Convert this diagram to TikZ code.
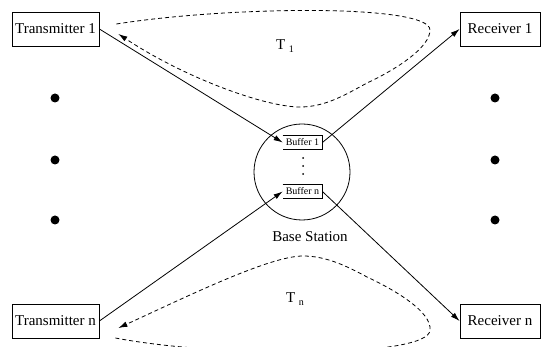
\documentclass[tikz,border=0pt]{standalone}
\usepackage{fontspec}
\setmainfont{Liberation Serif}
\usetikzlibrary{arrows.meta, positioning, calc}
\tikzset{
  every picture/.style={line width=0.8pt},
  unit/.style={draw, minimum height=34pt, inner sep=1pt, font=\fontsize{15}{18}\selectfont},
  buffer/.style={minimum width=39pt, minimum height=14pt, inner sep=1pt, font=\fontsize{10}{12}\selectfont},
  station/.style={circle, draw, minimum size=96pt, inner sep=0pt},
  arrow/.style={-{Latex[length=9pt, width=5.5pt]}},
  feedback/.style={-{Latex[length=9pt, width=5.5pt]}, dash pattern=on 4pt off 3pt},
  note/.style={font=\fontsize{15}{18}\selectfont},
}
\newcommand{\sublab}[1]{\hspace{3.5pt}\raisebox{-3.5pt}{\fontsize{10}{12}\selectfont #1}}

\begin{document}
\begin{tikzpicture}[x=1pt, y=-1pt]
  \useasboundingbox (0,0) rectangle (541,347);
  % end points
  \node[unit, minimum width=87pt] (t1) at (55.5,29) {Transmitter 1};
  \node[unit, minimum width=87pt] (tn) at (55.5,321) {Transmitter n};
  \node[unit, minimum width=80pt] (r1) at (500,29) {Receiver 1};
  \node[unit, minimum width=80pt] (rn) at (500,321) {Receiver n};
  \foreach \y in {98,160,220}{
    \fill (55,\y) circle (4.5pt);
    \fill (495,\y) circle (4.5pt);
  }
  % base station
  \node[station] (bs) at (302,172) {};
  \node[note] (bslab) at (310,237) {Base Station};
  \node[buffer] (b1) at (302.5,142.5) {Buffer 1};
  \node[buffer] (bn) at (302.5,191.5) {Buffer n};
  \foreach \b in {b1,bn}
    \draw (\b.north west) -- (\b.north east) -- (\b.south east) -- (\b.south west);
  \foreach \y in {158,166,174} \fill (303,\y) circle (1pt);
  % traffic
  \draw[arrow] (t1.east) -- (b1.west);
  \draw[arrow] (b1.east) -- (r1.west);
  \draw[arrow] (tn.east) -- (bn.west);
  \draw[arrow] (bn.east) -- (rn.west);
  % round trips
  \coordinate (l1s) at ($(t1.east)+(17,-5)$);
  \coordinate (l1e) at ($(t1.east)+(19,5)$);
  \coordinate (lns) at ($(tn.east)+(16,17)$);
  \coordinate (lne) at ($(tn.east)+(19,7)$);
  \draw[feedback] (l1s) .. controls (230,6) and (430,4) .. (430,30)
    .. controls (430,48) and (395,70) .. (367,83)
    .. controls (345,95) and (325,107) .. (300,107)
    .. controls (265,107) and (185,78) .. (l1e);
  \draw[feedback] (lns) .. controls (220,358) and (430,358) .. (430,330)
    .. controls (432,312) and (395,290) .. (367,277)
    .. controls (345,265) and (325,256) .. (303,256)
    .. controls (270,256) and (190,295) .. (lne);
  \node[note] (tau1) at (285,46) {T\sublab{1}};
  \node[note] (taun) at (295,299) {T\sublab{n}};
\end{tikzpicture}
\end{document}
